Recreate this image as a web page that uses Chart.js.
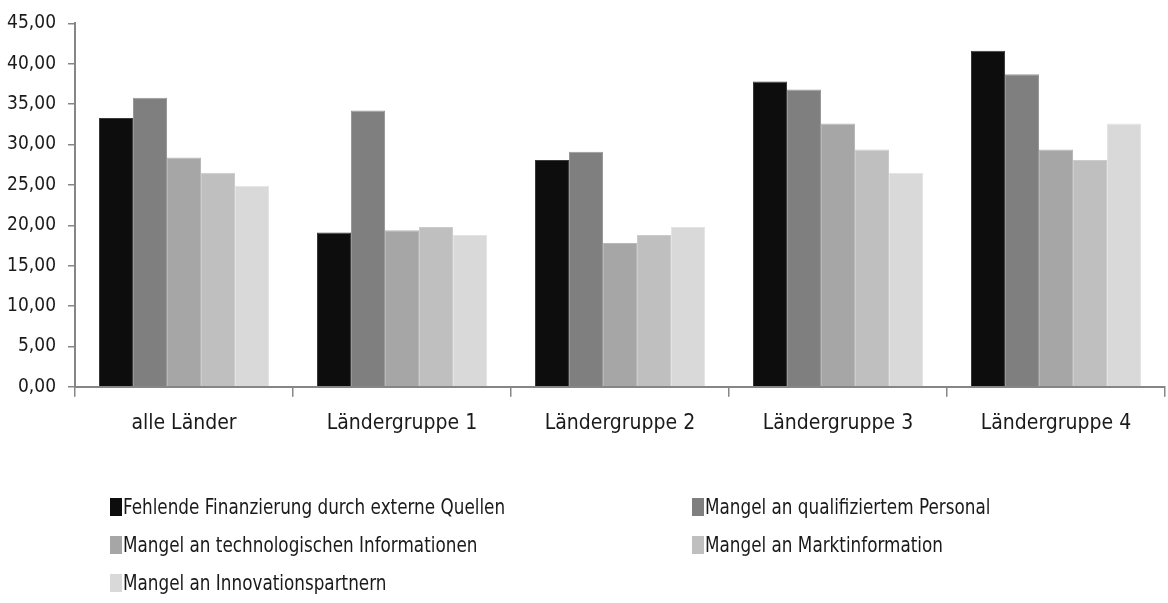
<!DOCTYPE html>
<html>
<head>
<meta charset="utf-8">
<script src="https://cdn.jsdelivr.net/npm/chart.js@4/dist/chart.umd.min.js"></script>
<style>
html,body{margin:0;padding:0;background:#fff;}
#wrap{width:1168px;height:603px;position:relative;}
</style>
</head>
<body>
<div id="wrap"><canvas id="c"></canvas></div>
<script>
// Daten
const categories=['alle Länder','Ländergruppe 1','Ländergruppe 2','Ländergruppe 3','Ländergruppe 4'];
const seriesNames=['Fehlende Finanzierung durch externe Quellen','Mangel an qualifiziertem Personal','Mangel an technologischen Informationen','Mangel an Marktinformation','Mangel an Innovationspartnern'];
const finanzierung=[33.3,19.1,28.1,37.8,41.6];
const personal=[35.8,34.2,29.1,36.8,38.7];
const technologie=[28.4,19.4,17.8,32.6,29.4];
const markt=[26.5,19.8,18.8,29.4,28.1];
const partner=[24.9,18.8,19.8,26.5,32.6];
const yTicks=[0,5,10,15,20,25,30,35,40,45];

const colors=['#0d0d0d','#7f7f7f','#a6a6a6','#bfbfbf','#d9d9d9'];
const borders=['#3a3a3a','#999999','#b8b8b8','#cccccc','#e4e4e4'];
const FONT="'Liberation Sans Narrow','DejaVu Sans Condensed',sans-serif";

// Legende in zwei Spalten, schmal gesetzt wie im Original
const legendPlugin={
  id:'gridLegend',
  afterDraw(chart){
    const ctx=chart.ctx;
    const cols=[110,692], rows=[507,545,583];
    ctx.save();
    ctx.font='22px '+FONT;
    ctx.textBaseline='middle';
    chart.data.datasets.forEach((ds,i)=>{
      const x=cols[i%2], y=rows[Math.floor(i/2)];
      ctx.fillStyle=ds.backgroundColor;
      ctx.fillRect(x,y-9,12,18);
      ctx.fillStyle='#1a1a1a';
      const w=ctx.measureText(ds.label).width;
      ctx.fillText(ds.label,x+13,y+1,w*0.85);
    });
    ctx.restore();
  }
};

const data=[finanzierung,personal,technologie,markt,partner];
new Chart(document.getElementById('c'),{
  type:'bar',
  data:{
    labels:categories,
    datasets:data.map((d,i)=>({
      label:seriesNames[i],
      data:d,
      backgroundColor:colors[i],
      borderColor:borders[i],
      borderWidth:1,
      categoryPercentage:0.78,
      barPercentage:1
    }))
  },
  options:{
    responsive:true,
    maintainAspectRatio:false,
    animation:false,
    layout:{padding:{top:14,right:3,bottom:153,left:0}},
    plugins:{legend:{display:false},tooltip:{enabled:false}},
    scales:{
      x:{
        grid:{display:true,drawOnChartArea:false,drawTicks:true,tickLength:10,color:'#868686',lineWidth:1.5,offset:true},
        border:{color:'#868686',width:2},
        ticks:{color:'#1a1a1a',font:{family:FONT,size:21},padding:14,maxRotation:0}
      },
      y:{
        min:0,max:45,
        afterFit(s){s.width=75;},
        afterBuildTicks(s){s.ticks=yTicks.map(v=>({value:v}));},
        grid:{display:true,drawOnChartArea:false,drawTicks:true,tickLength:7,color:'#868686',lineWidth:1.5},
        border:{color:'#868686',width:2},
        ticks:{color:'#1a1a1a',font:{family:FONT,size:19},padding:12,
          callback:v=>v.toFixed(2).replace('.',',')}
      }
    }
  },
  plugins:[legendPlugin]
});
</script>
</body>
</html>
